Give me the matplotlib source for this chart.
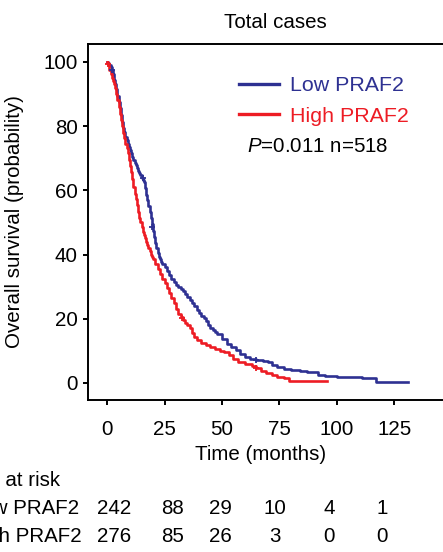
import matplotlib
matplotlib.use("Agg")
import matplotlib.pyplot as plt

plt.rcParams['font.family'] = ['Liberation Sans', 'DejaVu Sans']
plt.rcParams['mathtext.fontset'] = 'custom'
plt.rcParams['mathtext.it'] = 'Liberation Sans:italic'
plt.rcParams['mathtext.rm'] = 'Liberation Sans'

# ---- data ----
low_time = [0, 0.5, 1, 1.5, 2, 2.5, 3, 3.5, 4, 4.5, 5, 5.5, 6, 6.5, 7, 7.5, 8, 8.5, 9,
            9.5, 10, 10.5, 11, 11.5, 12, 12.5, 13, 13.5, 14, 14.5, 15, 15.5, 16, 16.5,
            17, 17.5, 18, 18.5, 19, 19.5, 20, 20.5, 21, 21.5, 22, 22.5, 23, 23.5, 24,
            25, 26, 27, 28, 29, 30, 31, 32, 33, 34, 35, 36, 37, 38, 39, 40, 41, 42, 43,
            44, 45, 46, 47, 48, 50, 52, 54, 56, 58, 60, 62, 65, 68, 70, 72, 74, 77, 80,
            84, 87, 92, 95, 100, 111, 117, 131]
low_surv = [100, 99.6, 99.2, 98.4, 97.5, 96.1, 94.5, 93.1, 91.5, 89.4, 87.5, 85.6, 83.5,
            81.4, 79.5, 78.1, 76.5, 75.6, 74.5, 73.4, 72.5, 71.6, 70.5, 69.4, 68.5, 67.9,
            67, 66.1, 65.5, 64.9, 64, 63.2, 62.5, 60.6, 58.5, 56.9, 55, 53.2, 51.5, 49.6,
            47.5, 45.4, 43.5, 42.1, 40.5, 39.4, 38.5, 37.8, 37, 36, 34.8, 33.5, 32.5,
            31.5, 30.6, 29.9, 29.2, 28.5, 27.7, 26.8, 25.9, 25, 24, 22.8, 21.8, 21, 20.3,
            19.2, 18.0, 17.2, 16.4, 15.9, 15.2, 13.8, 12, 11.3, 10.2, 9.0, 8.0, 7.4, 7.2,
            6.8, 6.4, 5.6, 5.0, 4.5, 4.0, 3.7, 3.4, 2.6, 2.2, 1.9, 1.6, 0.4, 0.4]

high_time = [0, 0.5, 1, 1.5, 2, 2.5, 3, 3.5, 4, 4.5, 5, 5.5, 6, 6.5, 7, 7.5, 8, 8.5, 9,
             9.5, 10, 10.5, 11, 11.5, 12, 12.5, 13, 13.5, 14, 14.5, 15, 15.5, 16, 16.5,
             17, 17.5, 18, 18.5, 19, 19.5, 20, 21, 22, 23, 24, 25, 26, 27, 28, 29, 30,
             31, 32, 33, 34, 35, 36, 37, 38, 39, 41, 43, 45, 47, 49, 51, 53, 55, 57, 60,
             63, 65, 67, 69, 72, 74, 77, 79, 95.7]
high_surv = [100, 99, 97.5, 96.2, 95, 94, 93, 91.8, 90, 88.1, 86, 83.9, 82, 80.1, 78,
             76.2, 74.5, 73.1, 71.5, 69.4, 67.5, 65.6, 63.5, 61.2, 59, 57.3, 55.5, 53.4,
             51.5, 50.1, 48.5, 47.1, 46, 45.1, 44, 42.9, 42, 41.1, 40, 39.2, 38.5, 37,
             35.5, 34, 32.5, 31, 29.5, 28, 26.5, 25, 23, 21.5, 20.5, 19.6, 18.8, 18, 17.2,
             15.5, 14.2, 13.4, 12.5, 11.8, 11.2, 10.6, 10.0, 9.5, 8.7, 7.6, 6.5, 6.0,
             5.2, 4.7, 3.8, 3.0, 2.6, 1.9, 1.4, 0.6, 0.6]

low_cens_t = [2.2, 15.7, 19.6, 65]
low_cens_s = [97.5, 64, 48.5, 7.2]
high_cens_t = [0.5, 32.6, 65]
high_cens_s = [99.5, 20.2, 4.7]

xticks = [0, 25, 50, 75, 100, 125]
yticks = [0, 20, 40, 60, 80, 100]
risk_low = [242, 88, 29, 10, 4, 1]
risk_high = [276, 85, 26, 3, 0, 0]
labels = ['Low PRAF2', 'High PRAF2']

# ---- layout ----
W, H = 443, 552
BLUE = '#2E3192'
RED = '#ED1C24'
FS = 14.8

fig = plt.figure(figsize=(W / 100, H / 100), dpi=100)
ax = fig.add_axes([88 / W, 1 - 400 / H, (462 - 88) / W, (400 - 44) / H])

ax.plot(low_time, low_surv, drawstyle='steps-post', color=BLUE, lw=1.9, label=labels[0], zorder=3)
ax.plot(high_time, high_surv, drawstyle='steps-post', color=RED, lw=1.9, label=labels[1], zorder=3)
ax.plot(low_cens_t, low_cens_s, ls='none', marker='+', ms=5, mew=1.3, color=BLUE, zorder=3)
ax.plot(high_cens_t, high_cens_s, ls='none', marker='+', ms=5, mew=1.3, color=RED, zorder=3)

ax.set_xlim(-8.3, 154.5)
ax.set_ylim(-5.3, 105.6)
ax.set_xticks(xticks)
ax.set_yticks(yticks)
ax.tick_params(axis='both', direction='out', length=3.5, width=1.4, labelsize=FS, color='black')
ax.tick_params(axis='x', pad=11)
ax.tick_params(axis='y', pad=4)
for s in ['left', 'top', 'bottom']:
    ax.spines[s].set_linewidth(1.4)
ax.spines['right'].set_visible(False)

ax.set_title('Total cases', fontsize=FS, pad=11.5)

leg = ax.legend(loc='upper left', bbox_to_anchor=(239 / W, 1 - 76 / H), bbox_transform=fig.transFigure,
                frameon=False, fontsize=15.4, handlelength=1.85, handletextpad=0.55,
                labelspacing=0.55, borderpad=0, borderaxespad=0)
for t, c in zip(leg.get_texts(), [BLUE, RED]):
    t.set_color(c)
for l in leg.get_lines():
    l.set_linewidth(2.4)

fig.text(247 / W, 1 - 146 / H, r'$\mathit{P}$=0.011 n=518', fontsize=FS, ha='left', va='center')

fig.text(260.5 / W, 1 - 455 / H, 'Time (months)', fontsize=FS, ha='center', va='center')
fig.text(15 / W, 1 - 222 / H, 'Overall survival (probability)', fontsize=FS,
         rotation=90, ha='center', va='center')

# number at risk table
col_x = [114.5, 172.5, 220, 275, 329, 382]
fig.text(60 / W, 1 - 480 / H, 'Number at risk', fontsize=FS, ha='right', va='center')
for row_y, lab, vals, end in [(509, labels[0], risk_low, 79), (537, labels[1], risk_high, 82)]:
    fig.text(end / W, 1 - row_y / H, lab, fontsize=FS, ha='right', va='center')
    for cx, v in zip(col_x, vals):
        fig.text(cx / W, 1 - row_y / H, str(v), fontsize=FS, ha='center', va='center')

fig.savefig('out.png', dpi=100)
